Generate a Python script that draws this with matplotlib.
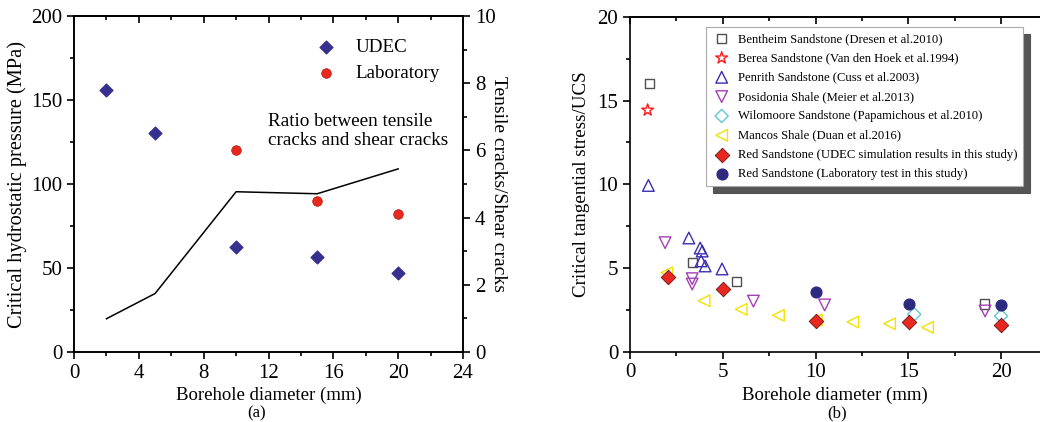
import matplotlib
matplotlib.use('Agg')
import matplotlib.pyplot as plt
from matplotlib.ticker import MultipleLocator

plt.rcParams['font.family'] = ['Liberation Serif', 'DejaVu Serif']
plt.rcParams['mathtext.fontset'] = 'stix'

# (a) pressão crítica vs diâmetro
diam_a = [2, 5, 10, 15, 20]
udec_p = [155.7, 130.3, 62.8, 56.4, 47.1]
diam_lab = [10, 15, 20]
lab_p = [120.0, 89.8, 82.4]
ratio = [0.99, 1.74, 4.77, 4.71, 5.45]

# (b) tensão tangencial crítica / UCS
bent_x = [1.04, 3.35, 5.74, 19.1]
bent_y = [16.0, 5.31, 4.18, 2.85]
berea_x = [0.95]
berea_y = [14.43]
penr_x = [0.99, 3.17, 3.78, 3.89, 3.83, 4.05, 4.96]
penr_y = [9.93, 6.79, 6.19, 6.01, 5.42, 5.12, 4.94]
posi_x = [1.89, 3.35, 3.35, 6.65, 10.49, 19.14]
posi_y = [6.51, 4.36, 4.04, 3.02, 2.79, 2.43]
wilo_x = [15.32, 20.0]
wilo_y = [2.23, 2.13]
manc_x = [1.98, 3.99, 5.99, 8.0, 10.04, 12.01, 13.99, 16.04]
manc_y = [4.72, 3.04, 2.53, 2.17, 1.89, 1.77, 1.67, 1.45]
red_x = [2.03, 5.02, 10.04, 15.02, 20.0]
red_y = [4.44, 3.74, 1.85, 1.77, 1.59]
labb_x = [10.04, 15.02, 20.0]
labb_y = [3.56, 2.83, 2.81]


def top_ticks(ax, major, minor):
    # ticks no topo apontando para dentro
    sec = ax.secondary_xaxis('top')
    sec.xaxis.set_major_locator(MultipleLocator(major))
    sec.xaxis.set_minor_locator(MultipleLocator(minor))
    sec.tick_params(axis='x', which='major', direction='in', length=5, width=1.2, labeltop=False)
    sec.tick_params(axis='x', which='minor', direction='in', length=3, width=1.2)
    sec.spines['top'].set_linewidth(1.2)
    return sec


fig = plt.figure(figsize=(10.4, 4.22), dpi=100)

# ---------- painel (a) ----------
ax1 = fig.add_axes([0.0712, 0.1659, 0.374, 0.7961])
ax1.scatter(diam_a, udec_p, marker='D', s=42, color='#38308e', label='UDEC', zorder=3)
ax1.scatter(diam_lab, lab_p, marker='o', s=48, color='#e8281e', edgecolor='#b01a10',
            linewidth=0.5, label='Laboratory', zorder=3)
ax1.set_xlim(0, 24)
ax1.set_ylim(0, 200)
ax1.xaxis.set_major_locator(MultipleLocator(4))
ax1.xaxis.set_minor_locator(MultipleLocator(2))
ax1.yaxis.set_major_locator(MultipleLocator(50))
ax1.yaxis.set_minor_locator(MultipleLocator(25))
ax1.tick_params(axis='both', which='major', direction='out', length=5, width=1.2, labelsize=15)
ax1.tick_params(axis='both', which='minor', direction='out', length=3, width=1.2)
ax1.set_xlabel('Borehole diameter (mm)', fontsize=13.5, labelpad=3)
ax1.set_ylabel('Critical hydrostatic pressure (MPa)', fontsize=14.7, labelpad=3)
leg1 = ax1.legend(loc='upper right', bbox_to_anchor=(0.985, 0.985), frameon=False, fontsize=13.7,
                  handletextpad=0.8, labelspacing=0.5, handlelength=1.5)
ax1.text(0.498, 0.71, 'Ratio between tensile\ncracks and shear cracks', transform=ax1.transAxes,
         fontsize=13.8, va='top', ha='left', linespacing=1.12)
top_ticks(ax1, 4, 2)

ax2 = ax1.twinx()
ax2.plot(diam_a, ratio, color='black', linewidth=1.1)
ax2.set_ylim(0, 10)
ax2.yaxis.set_major_locator(MultipleLocator(2))
ax2.yaxis.set_minor_locator(MultipleLocator(1))
ax2.tick_params(axis='y', which='major', direction='out', length=5, width=1.2, labelsize=15)
ax2.tick_params(axis='y', which='minor', direction='out', length=3, width=1.2)
ax2.set_ylabel('Tensile cracks/Shear cracks', fontsize=14, rotation=-90, labelpad=8)

for ax in (ax1, ax2):
    for sp in ax.spines.values():
        sp.set_linewidth(1.2)

fig.text(0.247, 0.002, '(a)', fontsize=12, ha='center', va='bottom')

# ---------- painel (b) ----------
ax3 = fig.add_axes([0.6058, 0.1667, 0.3942, 0.7933])
ax3.scatter(bent_x, bent_y, marker='s', s=45, facecolor='none', edgecolor='#505050',
            linewidth=1.0, label='Bentheim Sandstone (Dresen et al.2010)', zorder=3)
ax3.scatter(berea_x, berea_y, marker='*', s=80, facecolor='none', edgecolor='#ff1a1a',
            linewidth=1.0, label='Berea Sandstone (Van den Hoek et al.1994)', zorder=3)
ax3.scatter(penr_x, penr_y, marker='^', s=70, facecolor='none', edgecolor='#3a2eb0',
            linewidth=1.0, label='Penrith Sandstone (Cuss et al.2003)', zorder=3)
ax3.scatter(posi_x, posi_y, marker='v', s=70, facecolor='none', edgecolor='#a43fb4',
            linewidth=1.0, label='Posidonia Shale (Meier et al.2013)', zorder=3)
ax3.scatter(wilo_x, wilo_y, marker='D', s=45, facecolor='none', edgecolor='#5ccad2',
            linewidth=1.0, label='Wilomoore Sandstone (Papamichous et al.2010)', zorder=3)
ax3.scatter(manc_x, manc_y, marker='<', s=70, facecolor='none', edgecolor='#f2e200',
            linewidth=1.0, label='Mancos Shale (Duan et al.2016)', zorder=3)
ax3.scatter(red_x, red_y, marker='D', s=55, color='#e8281e', edgecolor='#6a1010',
            linewidth=0.6, label='Red Sandstone (UDEC simulation results in this study)', zorder=4)
ax3.scatter(labb_x, labb_y, marker='o', s=60, color='#2e2a80',
            label='Red Sandstone (Laboratory test in this study)', zorder=4)
ax3.set_xlim(0, 22.1)
ax3.set_ylim(0, 20)
ax3.xaxis.set_major_locator(MultipleLocator(5))
ax3.xaxis.set_minor_locator(MultipleLocator(2.5))
ax3.yaxis.set_major_locator(MultipleLocator(5))
ax3.yaxis.set_minor_locator(MultipleLocator(2.5))
ax3.tick_params(axis='both', which='major', direction='out', length=5, width=1.2, labelsize=15)
ax3.tick_params(axis='both', which='minor', direction='out', length=3, width=1.2)
ax3.spines['right'].set_visible(False)
for sp in ax3.spines.values():
    sp.set_linewidth(1.2)
top_ticks(ax3, 5, 2.5)
ax3.set_xlabel('Borehole diameter (mm)', fontsize=13.5, labelpad=3)
ax3.set_ylabel('Critical tangential stress/UCS', fontsize=13.7, labelpad=5)
leg3 = ax3.legend(loc='upper left', bbox_to_anchor=(0.185, 0.969), fontsize=9.1, frameon=True,
                  fancybox=False, shadow={'color': '#555555', 'alpha': 1.0, 'ox': 5, 'oy': -5},
                  edgecolor='#aaaaaa', handletextpad=0.5, handlelength=1.6,
                  labelspacing=0.58, borderpad=0.45, borderaxespad=0)
leg3.get_frame().set_linewidth(0.8)

fig.text(0.805, 0.002, '(b)', fontsize=12, ha='center', va='bottom')

plt.savefig('out.png', dpi=100)
